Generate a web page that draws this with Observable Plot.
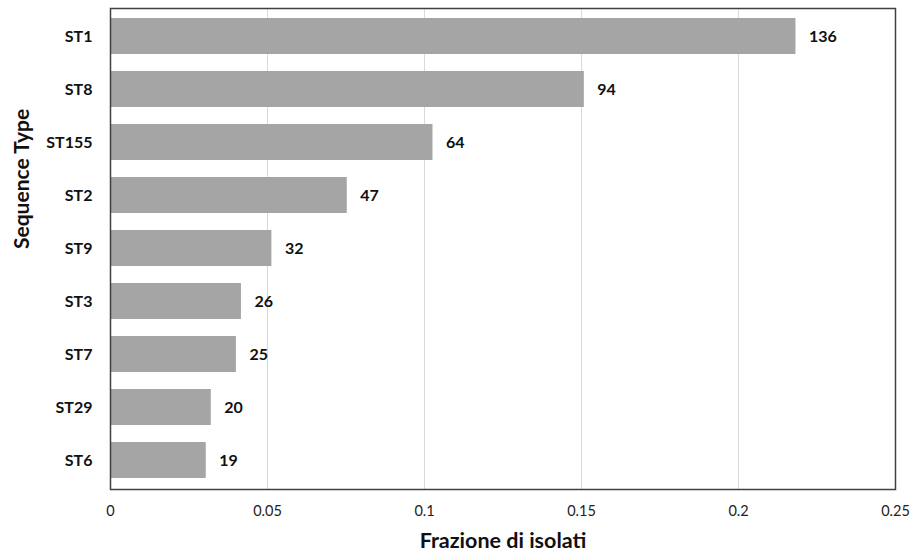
<!DOCTYPE html>
<html>
<head>
<meta charset="utf-8">
<script src="https://cdn.jsdelivr.net/npm/d3@7"></script>
<script src="https://cdn.jsdelivr.net/npm/@observablehq/plot@0.6"></script>
<style>
  body { margin: 0; background: #fff; }
  #chart svg { display: block; }
</style>
</head>
<body>
<div id="chart"></div>
<script>
// Most frequent sequence types: number of isolates and fraction of all isolates
const sequenceTypes = ["ST1", "ST8", "ST155", "ST2", "ST9", "ST3", "ST7", "ST29", "ST6"];
const isolateCounts = [136, 94, 64, 47, 32, 26, 25, 20, 19];
const isolateFractions = [0.2183, 0.1509, 0.1027, 0.0754, 0.0514, 0.0417, 0.0401, 0.0321, 0.0305];
const xTicks = [0, 0.05, 0.1, 0.15, 0.2, 0.25];

const rows = sequenceTypes.map((st, i) => ({
  st,
  count: isolateCounts[i],
  fraction: isolateFractions[i]
}));

const chart = Plot.plot({
  width: 912,
  height: 555,
  marginLeft: 110,
  marginRight: 17,
  marginTop: 8,
  marginBottom: 66,
  style: { fontFamily: "Lato, 'Open Sans', sans-serif", color: "#000", background: "#fff" },
  x: { domain: [0, 0.25] },
  y: { domain: sequenceTypes, paddingInner: 0.32, paddingOuter: 0.16 },
  marks: [
    Plot.gridX(xTicks, { stroke: "#d9d9d9", strokeOpacity: 1, strokeWidth: 1 }),
    Plot.barX(rows, { x: "fraction", y: "st", fill: "#a5a5a5" }),
    Plot.text(rows, {
      x: "fraction", y: "st", text: d => String(d.count),
      dx: 13, textAnchor: "start", fontWeight: "bold", fontSize: 16, fill: "#111"
    }),
    Plot.frame({ stroke: "#404040", strokeWidth: 1.5 }),
    Plot.axisX(xTicks, {
      tickSize: 0, tickPadding: 16, tickFormat: d => String(d),
      fontSize: 14.5, label: null, fill: "#222"
    }),
    Plot.axisY({
      tickSize: 0, tickPadding: 18, fontSize: 16, fontWeight: "bold",
      label: null, fill: "#111"
    }),
    Plot.text(["Frazione di isolati"], {
      frameAnchor: "bottom", dy: 52, text: d => d,
      fontSize: 21.5, fontWeight: "bold", fill: "#111", lineAnchor: "middle"
    }),
    Plot.text(["Sequence Type"], {
      frameAnchor: "left", dx: -88, rotate: -90, text: d => d,
      fontSize: 21, fontWeight: "bold", fill: "#111", lineAnchor: "middle"
    })
  ]
});

document.getElementById("chart").append(chart);
</script>
</body>
</html>
